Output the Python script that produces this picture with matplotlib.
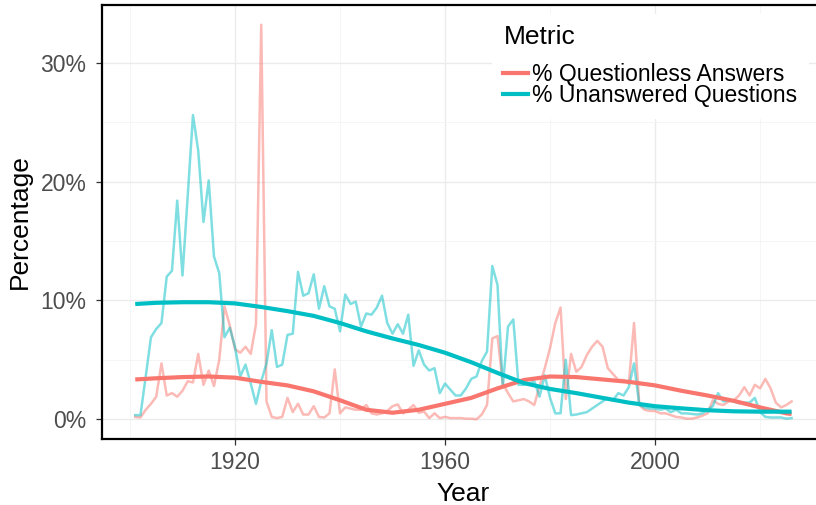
import matplotlib

matplotlib.use("Agg")
import matplotlib.pyplot as plt
from matplotlib.lines import Line2D
from matplotlib.ticker import FuncFormatter

QA_COLOR = "#F8766D"
UQ_COLOR = "#00BFC4"
GRID_MAJOR = "#EBEBEB"
GRID_MINOR = "#F4F4F4"
TICK_TEXT = "#4D4D4D"

YEARS = list(range(1901, 2027))

# % Questionless Answers, one value per year 1901-2026
QUESTIONLESS = [
    0.2, 0.15, 0.8, 1.3, 1.9, 4.7, 2.0, 2.2, 1.9, 2.4,
    3.2, 3.1, 5.5, 2.9, 4.1, 2.8, 5.0, 9.5, 7.9, 5.9,
    5.6, 6.1, 5.5, 8.0, 33.2, 1.5, 0.2, 0.1, 0.2, 1.8,
    0.6, 1.3, 0.4, 0.4, 1.1, 0.2, 0.15, 0.5, 4.2, 0.5,
    1.0, 0.9, 0.8, 0.8, 1.2, 0.5, 0.4, 0.5, 0.7, 1.1,
    1.25, 0.5, 0.8, 1.2, 0.55, 0.65, 0.1, 0.5, 0.1, 0.2,
    0.1, 0.1, 0.1, 0.05, 0.05, 0.0, 0.4, 1.2, 6.8, 7.0,
    3.0, 2.2, 1.5, 1.6, 1.7, 1.5, 1.2, 2.8, 4.3, 6.0,
    8.1, 9.4, 1.7, 5.5, 4.0, 4.4, 5.4, 6.1, 6.6, 6.1,
    4.3, 3.8, 3.3, 3.3, 3.0, 8.1, 1.2, 0.8, 0.7, 0.7,
    0.5, 0.5, 0.35, 0.2, 0.15, 0.05, 0.05, 0.15, 0.3, 0.5,
    1.6, 1.3, 1.2, 1.5, 1.6, 2.0, 2.7, 2.0, 2.9, 2.6,
    3.4, 2.6, 1.4, 1.0, 1.2, 1.5,
]

# % Unanswered Questions, one value per year 1901-2026
UNANSWERED = [
    0.35, 0.35, 3.6, 6.9, 7.6, 8.1, 12.0, 12.5, 18.4, 12.1,
    18.8, 25.6, 22.6, 16.6, 20.1, 13.7, 12.3, 6.9, 7.7, 6.1,
    3.6, 4.6, 3.0, 1.3, 3.2, 4.7, 7.5, 4.4, 4.6, 7.1,
    7.2, 12.4, 10.4, 10.6, 12.2, 9.3, 11.2, 9.5, 9.3, 7.4,
    10.5, 9.7, 9.9, 7.8, 8.9, 8.8, 9.4, 10.4, 8.1, 7.2,
    8.0, 7.2, 8.8, 4.5, 5.8, 4.6, 4.1, 4.3, 2.2, 3.0,
    2.5, 2.0, 2.0, 2.6, 3.4, 3.6, 4.9, 5.7, 12.9, 11.3,
    2.7, 7.8, 8.4, 2.9, 2.9, 3.0, 3.2, 1.9, 3.7, 1.8,
    0.5, 0.5, 5.0, 0.35, 0.4, 0.5, 0.6, 0.9, 1.2, 1.5,
    1.8, 1.6, 2.2, 2.0, 2.7, 4.7, 1.2, 1.0, 0.9, 0.9,
    0.8, 0.9, 0.6, 0.8, 0.5, 0.5, 0.45, 0.4, 0.5, 0.8,
    1.1, 2.2, 1.5, 1.6, 1.5, 1.35, 1.4, 1.4, 1.8, 0.6,
    0.2, 0.15, 0.15, 0.15, 0.05, 0.1,
]

# smoothed trend
SMOOTH_YEARS = [1901, 1905, 1910, 1915, 1920, 1925, 1930, 1935, 1940, 1945,
                1950, 1955, 1960, 1965, 1970, 1975, 1980, 1985, 1990, 1995,
                2000, 2005, 2010, 2015, 2020, 2025, 2026]
SMOOTH_QUESTIONLESS = [3.35, 3.45, 3.55, 3.6, 3.5, 3.15, 2.85, 2.35, 1.6, 0.8,
                       0.55, 0.8, 1.3, 1.8, 2.6, 3.3, 3.6, 3.55, 3.35, 3.15,
                       2.85, 2.4, 2.0, 1.55, 1.0, 0.5, 0.45]
SMOOTH_UNANSWERED = [9.7, 9.8, 9.85, 9.85, 9.75, 9.45, 9.1, 8.7, 8.1, 7.4,
                     6.8, 6.25, 5.6, 4.8, 3.9, 3.05, 2.55, 2.2, 1.8, 1.4,
                     1.1, 0.92, 0.76, 0.67, 0.64, 0.64, 0.64]

LABELS = ["% Questionless Answers", "% Unanswered Questions"]

assert len(QUESTIONLESS) == len(YEARS) and len(UNANSWERED) == len(YEARS)

plt.rcParams["font.family"] = ["Liberation Sans", "DejaVu Sans"]

fig = plt.figure(figsize=(8.16, 5.05), dpi=100)
ax = fig.add_axes([102.4 / 816, 66 / 505, 722 / 816, 434 / 505])

ax.plot(YEARS, QUESTIONLESS, color=QA_COLOR, alpha=0.5, lw=1.8,
        solid_joinstyle="round", zorder=2)
ax.plot(YEARS, UNANSWERED, color=UQ_COLOR, alpha=0.5, lw=1.8,
        solid_joinstyle="round", zorder=2)
ax.plot(SMOOTH_YEARS, SMOOTH_QUESTIONLESS, color=QA_COLOR, lw=3.0,
        solid_capstyle="butt", zorder=3)
ax.plot(SMOOTH_YEARS, SMOOTH_UNANSWERED, color=UQ_COLOR, lw=3.0,
        solid_capstyle="butt", zorder=3)

ax.set_xlim(1894.75, 2032.25)
ax.set_ylim(-1.66, 34.86)
ax.set_xticks([1920, 1960, 2000])
ax.set_xticks([1900, 1940, 1980, 2020], minor=True)
ax.set_yticks([0, 10, 20, 30])
ax.set_yticks([5, 15, 25], minor=True)
ax.yaxis.set_major_formatter(FuncFormatter(lambda v, _: f"{v:.0f}%"))

ax.grid(which="major", color=GRID_MAJOR, lw=1.0, zorder=0)
ax.grid(which="minor", color=GRID_MINOR, lw=0.6, zorder=0)
ax.set_axisbelow(True)

ax.tick_params(which="major", length=4, width=0.9, color="#333333",
               labelsize=16.5, labelcolor=TICK_TEXT)
ax.tick_params(axis="y", which="major", pad=7.5)
ax.tick_params(axis="x", which="major", pad=4.5)
ax.tick_params(which="minor", length=0)
for side in ["left", "bottom", "top", "right"]:
    ax.spines[side].set_color("black")
    ax.spines[side].set_linewidth(1.6)

ax.set_xlabel("Year", fontsize=19, labelpad=6)
ax.set_ylabel("Percentage", fontsize=19, labelpad=6)

handles = [Line2D([], [], color=QA_COLOR, lw=3.0),
           Line2D([], [], color=UQ_COLOR, lw=3.0)]
leg = ax.legend(handles, LABELS, title="Metric", loc="upper left",
                bbox_to_anchor=(492 / 816, 1 - 14 / 505),
                bbox_transform=fig.transFigure, frameon=True, fancybox=False,
                edgecolor="none", facecolor="white", framealpha=1,
                fontsize=16.5, title_fontsize=19, handlelength=1.05,
                handletextpad=0.2, labelspacing=-0.1, borderpad=0.5,
                borderaxespad=0)
leg._legend_box.align = "left"
leg._legend_box.sep = 10

fig.savefig("out.png", dpi=100)
